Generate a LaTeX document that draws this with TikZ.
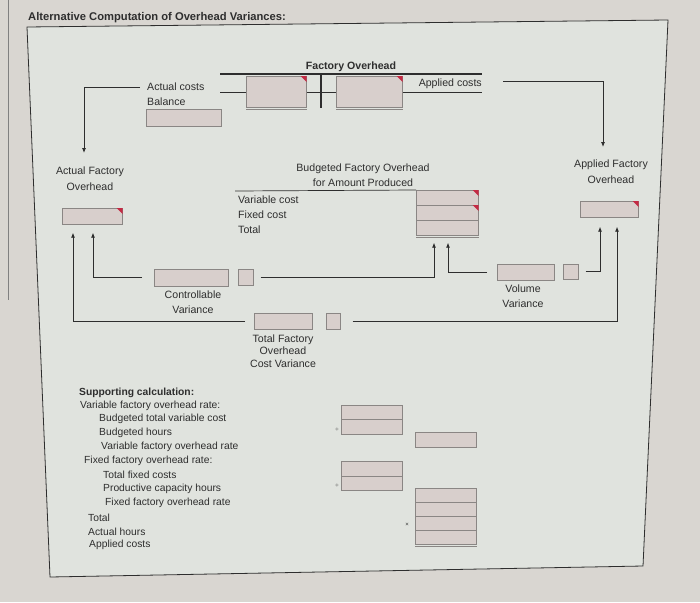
\documentclass[tikz,border=0pt]{standalone}
\usepackage{fontspec}
\setmainfont{Liberation Sans}
\usetikzlibrary{arrows.meta}
\definecolor{backdrop}{HTML}{D9D6D1}
\definecolor{panel}{HTML}{E0E3DE}
\definecolor{cellfill}{HTML}{D8CFCC}
\definecolor{cellline}{HTML}{8A8684}
\definecolor{ink}{HTML}{2E2E2E}
\definecolor{flagred}{HTML}{C42A44}
\newcommand{\redflag}[1]{\fill[flagred] (#1.north east) -- ++(-6,0) -- ++(6,6) -- cycle;}
\newcommand{\dblbase}[1]{\draw[cellline, line width=0.9pt] ([yshift=-2pt]#1.south west) -- ([yshift=-2pt]#1.south east);}

\begin{document}
\begin{tikzpicture}[x=1pt, y=-1pt, text=ink, lbl/.style={font=\fontsize{10.6}{15.5}\selectfont, align=center, inner sep=0pt}, head/.style={font=\fontsize{10.6}{12}\selectfont\bfseries, inner sep=0pt}, calc/.style={font=\fontsize{10.3}{12}\selectfont, anchor=west, inner sep=0pt}, cell/.style={draw=cellline, fill=cellfill, anchor=north west, inner sep=0pt, line width=0.7pt}, sym/.style={font=\fontsize{6}{6}\selectfont, inner sep=0pt}, arrow/.style={-{Latex[length=5pt, width=4pt]}, draw=ink, line width=0.8pt}, tline/.style={draw=ink, line width=1.6pt}, thin/.style={draw=ink, line width=0.7pt}]
\useasboundingbox (0,0) rectangle (700,602);
\fill[backdrop] (0,0) rectangle (700,602);
\draw[gray, line width=0.8pt] (8,0) -- (8,300);
\filldraw[fill=panel, draw=ink, line width=0.8pt] (27,27) -- (668,20) -- (643,566) -- (50,577) -- cycle;
\node[head, anchor=west, font=\fontsize{11.2}{13}\selectfont\bfseries] (title) at (28,18) {Alternative Computation of Overhead Variances:};

\node[head] (fohname) at (351,67) {Factory Overhead};
\draw[thin] (220,92) -- (482,92);
\node[cell, minimum width=60, minimum height=31] (debit) at (246,76) {};
\node[cell, minimum width=66, minimum height=31] (credit) at (336,76) {};
\redflag{debit}
\redflag{credit}
\dblbase{debit}
\dblbase{credit}
\draw[tline] (220,74) -- (482,74);
\draw[tline] (321,74) -- (321,108);
\node[lbl, anchor=east] (applbl) at (482,84) {Applied costs};
\node[lbl, anchor=west] (acost) at (147,87) {Actual costs};
\node[lbl, anchor=west] (bal) at (147,102) {Balance};
\node[cell, minimum width=75, minimum height=17] (balbox) at (146,109) {};

\node[lbl, anchor=north] (afoh) at (90,167) {Actual Factory\\Overhead};
\node[cell, minimum width=60, minimum height=16] (afohbox) at (62,208) {};
\redflag{afohbox}
\node[lbl, anchor=north] (apfoh) at (611,160) {Applied Factory\\Overhead};
\node[cell, minimum width=58, minimum height=16] (apfohbox) at (580,201) {};
\redflag{apfohbox}

\node[lbl] (budget) at (363,175) {Budgeted Factory Overhead\\for Amount Produced};
\node[lbl, anchor=west] (lvar) at (238,200) {Variable cost};
\node[lbl, anchor=west] (lfix) at (238,215) {Fixed cost};
\node[lbl, anchor=west] (ltot) at (238,230) {Total};
\node[cell, minimum width=62, minimum height=15] (brow1) at (416,190) {};
\node[cell, minimum width=62, minimum height=15] (brow2) at (416,205) {};
\node[cell, minimum width=62, minimum height=15] (brow3) at (416,220) {};
\redflag{brow1}
\redflag{brow2}
\dblbase{brow3}
\draw[thin] (235,191) -- (brow1.north west);

\node[cell, minimum width=74, minimum height=17] (cvar) at (154,269) {};
\node[cell, minimum width=15, minimum height=16] (cvarsign) at (238,269) {};
\node[lbl] (cvarlbl) at (193,302) {Controllable\\Variance};
\node[cell, minimum width=57, minimum height=16] (vvar) at (497,264) {};
\node[cell, minimum width=15, minimum height=15] (vvarsign) at (563,264) {};
\node[lbl] (vvarlbl) at (523,296) {Volume\\Variance};
\node[cell, minimum width=58, minimum height=16] (tvar) at (254,313) {};
\node[cell, minimum width=14, minimum height=16] (tvarsign) at (326,313) {};
\node[lbl, font=\fontsize{10.6}{12.5}\selectfont] (tvarlbl) at (283,351) {Total Factory\\Overhead\\Cost Variance};

\draw[arrow] ([xshift=-7pt]acost.west) -| ([xshift=-6pt, yshift=14pt]afoh.north);
\draw[arrow] ([xshift=21pt, yshift=3pt]applbl.east) -| ([xshift=-8pt, yshift=13pt]apfoh.north);
\draw[arrow] ([xshift=7pt]cvarsign.east) -| ([xshift=18pt, yshift=-7pt]brow3.south west);
\draw[arrow] ([xshift=-10pt]vvar.west) -| ([xshift=32pt, yshift=-7pt]brow3.south west);
\draw[arrow] ([xshift=-12pt]cvar.west) -| ([xshift=31pt, yshift=-8pt]afohbox.south west);
\draw[arrow] ([xshift=-9pt]tvar.west) -| ([xshift=11pt, yshift=-8pt]afohbox.south west);
\draw[arrow] ([xshift=7pt]vvarsign.east) -| ([xshift=20pt, yshift=-9pt]apfohbox.south west);
\draw[arrow] ([xshift=12pt]tvarsign.east) -| ([xshift=37pt, yshift=-9pt]apfohbox.south west);

\node[calc, font=\fontsize{10.3}{12}\selectfont\bfseries] (support) at (79,393) {Supporting calculation:};
\node[calc] (vrate) at (80,406) {Variable factory overhead rate:};
\node[calc] (bvc) at (99,419) {Budgeted total variable cost};
\node[calc] (bhrs) at (99,433) {Budgeted hours};
\node[calc] (vfor) at (101,447) {Variable factory overhead rate};
\node[calc] (frate) at (84,461) {Fixed factory overhead rate:};
\node[calc] (tfc) at (103,475) {Total fixed costs};
\node[calc] (pch) at (103,489) {Productive capacity hours};
\node[calc] (ffor) at (105,503) {Fixed factory overhead rate};
\node[calc] (tot) at (88,518) {Total};
\node[calc] (ahrs) at (88,532) {Actual hours};
\node[calc] (apc) at (89,545) {Applied costs};

\node[cell, minimum width=61, minimum height=14] (vc1) at (341,405) {};
\node[cell, minimum width=61, minimum height=15] (vc2) at (341,419) {};
\node[cell, minimum width=61, minimum height=15] (vrbox) at (415,432) {};
\node[cell, minimum width=61, minimum height=15] (fc1) at (341,461) {};
\node[cell, minimum width=61, minimum height=14] (fc2) at (341,476) {};
\node[cell, minimum width=61, minimum height=14] (ap1) at (415,488) {};
\node[cell, minimum width=61, minimum height=14] (ap2) at (415,502) {};
\node[cell, minimum width=61, minimum height=14] (ap3) at (415,516) {};
\node[cell, minimum width=61, minimum height=14] (ap4) at (415,530) {};
\dblbase{ap4}
\node[sym] (div1) at (337,430) {÷};
\node[sym] (div2) at (337,486) {÷};
\node[sym] (times) at (407,525) {×};
\end{tikzpicture}
\end{document}
